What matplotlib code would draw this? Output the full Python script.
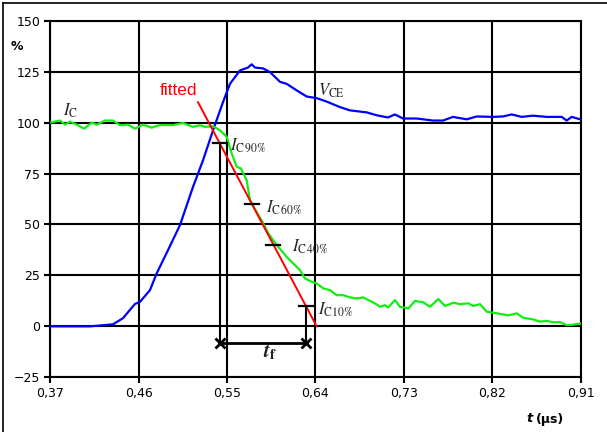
import numpy as np
import matplotlib
matplotlib.use('Agg')
import matplotlib.pyplot as plt
from matplotlib.lines import Line2D

plt.rcParams['font.family'] = 'DejaVu Sans'
plt.rcParams['mathtext.fontset'] = 'stix'

# ============================================
# DATA (% of nominal)
# ============================================
vce_t = [0.370, 0.4107, 0.4341, 0.4442, 0.4564, 0.4615, 0.4717, 0.4785, 0.4900, 0.5022,
         0.5154, 0.5256, 0.5358, 0.5459, 0.5530, 0.5632, 0.5713, 0.5751, 0.5785, 0.5866,
         0.5937, 0.6039, 0.6107, 0.6209, 0.6310, 0.6412, 0.6514, 0.6649, 0.6751, 0.6921,
         0.7022, 0.7137, 0.7208, 0.7290, 0.7429, 0.7595, 0.7697, 0.7798, 0.7938, 0.8039,
         0.8205, 0.8307, 0.8395, 0.8497, 0.8612, 0.8751, 0.8904, 0.8954, 0.9005, 0.910]
vce = [0, 0, 1, 4, 11, 12, 17.8, 26, 37.4, 49.7,
       68.4, 81.5, 96.2, 110, 119, 125.6, 127, 128.6, 127, 126.6,
       124.8, 120, 119, 115.8, 112.8, 112, 110.3, 107.6, 106, 105,
       103.6, 102.5, 104, 102, 102, 101, 101, 102.8, 101.6, 103,
       102.8, 103, 104, 102.8, 103.4, 102.8, 102.8, 101, 102.8, 101.5]

ic_t = [0.370, 0.3802, 0.3853, 0.3903, 0.3972, 0.4046, 0.4124, 0.4175, 0.4259, 0.4341,
        0.4412, 0.4493, 0.4564, 0.4646, 0.4734, 0.4819, 0.4951, 0.5053, 0.5154, 0.5225,
        0.5276, 0.5358, 0.5429, 0.5497, 0.5548, 0.5599, 0.5642, 0.5700, 0.5734, 0.5785,
        0.5869, 0.5920, 0.6005, 0.6107, 0.6242, 0.6293, 0.6361, 0.6412, 0.6479, 0.6547,
        0.6615, 0.6683, 0.6751, 0.6819, 0.6886, 0.6937, 0.7005, 0.7056, 0.7107, 0.7140,
        0.7208, 0.7259, 0.7344, 0.7412, 0.7496, 0.7564, 0.7649, 0.7717, 0.7801, 0.7869,
        0.7954, 0.8005, 0.8073, 0.8141, 0.8208, 0.8293, 0.8361, 0.8446, 0.8513, 0.8615,
        0.8683, 0.8751, 0.8818, 0.8886, 0.8954, 0.9022, 0.910]
ic = [100, 101, 99, 100.5, 99, 97, 100, 99, 101, 101,
      98.7, 99, 97, 99, 97.5, 98.8, 98.8, 99.8, 97.9, 98.7,
      97.9, 98.2, 96.2, 93, 84.8, 78.3, 77.5, 71.7, 62, 57.5,
      50.5, 45.6, 39.9, 34.1, 27.6, 23.5, 21.9, 21.1, 18.6, 17.8,
      15.3, 15.3, 14.2, 13.7, 14.2, 12.9, 11.3, 9.6, 10.4, 9.3,
      12.9, 9.6, 8.8, 12.5, 11.8, 9.6, 13.4, 10, 11.6, 10.9,
      11.3, 10, 10.9, 7.2, 6.7, 6, 5.4, 6.4, 4.2, 3.4,
      2.3, 2.7, 2, 2.1, 0.6, 0.8, 1.5]

# fitted straight line through the 90% and 10% points
fit_t = [0.5205, 0.6412]
fit_y = [110, 0]

# level markers on the I_C trace
lvl_t = [0.5430, 0.5754, 0.5971, 0.6307]
lvl_y = [90, 60, 40, 10]
lvl_names = [r'$I_{\mathrm{C\,90\%}}$', r'$I_{\mathrm{C\,60\%}}$',
             r'$I_{\mathrm{C\,40\%}}$', r'$I_{\mathrm{C10\%}}$']
lvl_lab_x = [0.5530, 0.5897, 0.6158, 0.6429]
lvl_lab_y = [88.4, 58, 39, 8]
tf_y = -8.4

xticks = [0.37, 0.46, 0.55, 0.64, 0.73, 0.82, 0.91]
xtick_labels = ['0,37', '0,46', '0,55', '0,64', '0,73', '0,82', '0,91']
yticks = [-25, 0, 25, 50, 75, 100, 125, 150]

# ============================================
# PLOT
# ============================================
fig = plt.figure(figsize=(6.07, 4.32), dpi=100)
ax = fig.add_axes([50 / 607, 1 - 377.3 / 432, 531 / 607, 356.6 / 432])

ax.plot(vce_t, vce, color='#0000ff', lw=1.6, zorder=3)
ax.plot(ic_t, ic, color='#11ee11', lw=1.6, zorder=3)
ax.plot(fit_t, fit_y, color='#ff0000', lw=1.4, zorder=4)

half = 0.0072
for t, y in zip(lvl_t, lvl_y):
    ax.plot([t - half, t + half], [y, y], color='black', lw=1.6, zorder=5)
for t, y in [(lvl_t[0], lvl_y[0]), (lvl_t[3], lvl_y[3])]:
    ax.plot([t, t], [y, tf_y], color='black', lw=1.5, zorder=5)
ax.plot([lvl_t[0], lvl_t[3]], [tf_y, tf_y], color='black', lw=2.0,
        marker='x', ms=7, mew=2.0, zorder=5)

for name, x, y in zip(lvl_names, lvl_lab_x, lvl_lab_y):
    ax.text(x, y, name, fontsize=12, color='#222222', va='center', ha='left', zorder=6)
ax.text(0.3832, 106, r'$I_\mathrm{C}$', fontsize=12, color='#222222', va='center')
ax.text(0.6429, 115.8, r'$V_\mathrm{CE}$', fontsize=12, color='#222222', va='center')
ax.text(0.5002, 115.8, 'fitted', fontsize=12.5, color='#ff0000', va='center', ha='center',
        family='Liberation Sans')
ax.text(0.5934, -12.8, r'$\mathbfit{t}_\mathbf{f}$', fontsize=15, color='#222222',
        va='center', ha='center')

ax.set_xlim(0.37, 0.91)
ax.set_ylim(-25, 150)
ax.set_xticks(xticks)
ax.set_xticklabels(xtick_labels)
ax.set_yticks(yticks)
ax.tick_params(direction='out', length=4, width=1.5, labelsize=9, pad=3)
ax.grid(True, color='black', lw=1.5)
ax.set_axisbelow(True)
for s in ax.spines.values():
    s.set_linewidth(1.5)

fig.text(16.7 / 607, 1 - 46.7 / 432, '%', fontsize=9, fontweight='bold', ha='center', va='center')
fig.text(530 / 607, 1 - 419 / 432, 't', fontsize=9.5, fontweight='bold', style='italic',
         ha='center', va='center')
fig.text(536 / 607, 1 - 419 / 432, '(µs)', fontsize=9, fontweight='bold', ha='left', va='center')

# outer frame (only left and top edges show in the crop)
fig.add_artist(Line2D([3 / 607, 3 / 607], [0, 1 - 3 / 432], color='black', lw=1.2,
                      transform=fig.transFigure))
fig.add_artist(Line2D([3 / 607, 1], [1 - 3 / 432, 1 - 3 / 432], color='black', lw=1.2,
                      transform=fig.transFigure))

fig.savefig('out.png', dpi=100)
